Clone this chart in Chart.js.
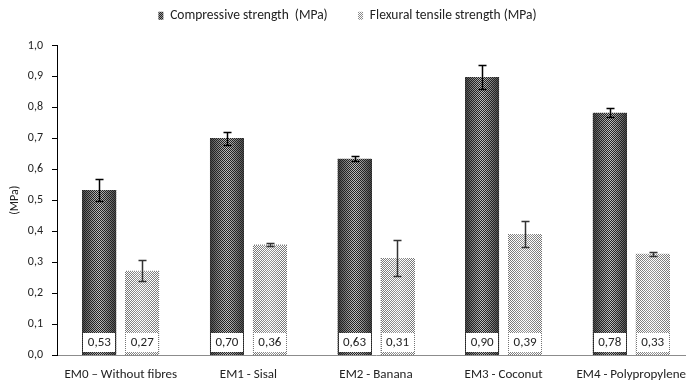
<!DOCTYPE html>
<html>
<head>
<meta charset="utf-8">
<script src="https://cdn.jsdelivr.net/npm/chart.js@4.4.1/dist/chart.umd.min.js"></script>
<style>
    html, body { margin: 0; padding: 0; background: #fff; overflow: hidden; }
    #wrap { width: 686px; height: 380px; overflow: hidden; }
</style>
</head>
<body>
<div id="wrap"><canvas id="chart" width="700" height="380"></canvas></div>
<script>
const categories = ['EM0 \u2013 Without fibres', 'EM1 - Sisal', 'EM2 - Banana', 'EM3 - Coconut', 'EM4 - Polypropylene'];
const compressive = [0.533, 0.700, 0.634, 0.898, 0.783];
const compressiveErr = [0.037, 0.022, 0.008, 0.040, 0.015];
const flexural = [0.272, 0.357, 0.313, 0.391, 0.327];
const flexuralErr = [0.034, 0.006, 0.058, 0.043, 0.007];
const seriesNames = ['Compressive strength  (MPa)', 'Flexural tensile strength (MPa)'];

const lerp = (a, b, t) => a + (b - a) * t;

// pixel shades for the dotted Excel-like fills (t: 0 centre -> 1 edge)
function compShade(t, odd) { return odd ? lerp(195, 70, Math.pow(t, 1.2)) : 35; }
function flexShade(t, odd) { return odd ? 255 : lerp(150, 115, t); }
const shades = [compShade, flexShade];
const errors = [compressiveErr, flexuralErr];
const errColors = ['#000', '#333'];

var canvas = document.getElementById('chart');
var ctx = canvas.getContext('2d');

function makePattern(w, shade) {
    const c = document.createElement('canvas');
    c.width = w; c.height = 2;
    const cx = c.getContext('2d');
    const img = cx.createImageData(w, 2);
    for (let yy = 0; yy < 2; yy++) {
        for (let xx = 0; xx < w; xx++) {
            const t = Math.min(1, Math.abs(xx + 0.5 - w / 2) / (w / 2));
            const v = shade(t, (xx + yy) % 2 === 1);
            const k = (yy * w + xx) * 4;
            img.data[k] = img.data[k + 1] = img.data[k + 2] = v;
            img.data[k + 3] = 255;
        }
    }
    cx.putImageData(img, 0, 0);
    return ctx.createPattern(c, 'repeat');
}

const fmt = v => v.toFixed(2).replace('.', ',');

// bars fill, error bars and value boxes
const barDecor = {
    id: 'barDecor',
    afterDatasetsDraw(chart) {
        const { ctx, scales: { y } } = chart;
        chart.data.datasets.forEach((ds, di) => {
            const meta = chart.getDatasetMeta(di);
            meta.data.forEach((bar, i) => {
                const left = Math.round(bar.x - bar.width / 2);
                const w = Math.round(bar.width);
                const top = Math.round(bar.y);
                const base = Math.round(bar.base);
                ctx.save();
                const pat = makePattern(w, shades[di]);
                pat.setTransform(new DOMMatrix().translate(left, 0));
                ctx.fillStyle = pat;
                ctx.fillRect(left, top, w, base - top);

                // error bar
                const v = ds.data[i], e = errors[di][i];
                const yHi = Math.round(y.getPixelForValue(v + e)) + 0.5;
                const yLo = Math.round(y.getPixelForValue(v - e)) + 0.5;
                const cxp = Math.round(bar.x) + 0.5;
                ctx.strokeStyle = errColors[di];
                ctx.lineWidth = 1.5;
                ctx.beginPath();
                ctx.moveTo(cxp, yHi); ctx.lineTo(cxp, yLo);
                ctx.moveTo(cxp - 4, yHi); ctx.lineTo(cxp + 4, yHi);
                ctx.moveTo(cxp - 4, yLo); ctx.lineTo(cxp + 4, yLo);
                ctx.stroke();

                // value box
                ctx.fillStyle = '#fff';
                ctx.fillRect(left + 1, base - 22, w - 2, 19);
                ctx.fillStyle = '#222';
                ctx.font = '13px Carlito, Lato, sans-serif';
                ctx.textAlign = 'center';
                ctx.textBaseline = 'middle';
                ctx.fillText(fmt(v), bar.x, base - 12);
                ctx.restore();
            });
        });
    }
};

const legendSpace = {
    id: 'legendSpace',
    beforeInit(chart) {
        const fit = chart.legend.fit;
        chart.legend.fit = function () {
            fit.call(this);
            this.height += 13;
        };
    }
};

Chart.defaults.font.family = 'Carlito, Lato, sans-serif';
Chart.defaults.color = '#222';

new Chart(ctx, {
    type: 'bar',
    data: {
        labels: categories,
        datasets: [
            {
                label: seriesNames[0] + '       ',
                data: compressive,
                backgroundColor: makePattern(4, (t, odd) => compShade(0.4, odd)),
                borderWidth: 0,
                categoryPercentage: 0.673,
                barPercentage: 0.79
            },
            {
                label: seriesNames[1],
                data: flexural,
                backgroundColor: makePattern(4, (t, odd) => flexShade(0.4, odd)),
                borderWidth: 0,
                categoryPercentage: 0.673,
                barPercentage: 0.79
            }
        ]
    },
    plugins: [barDecor, legendSpace],
    options: {
        responsive: false,
        animation: false,
        layout: { padding: { top: 0, right: 5, left: 0, bottom: 0 } },
        scales: {
            x: {
                grid: { display: false },
                border: { color: '#8c8c8c', width: 1 },
                ticks: { font: { size: 13 }, padding: 4, maxRotation: 0, autoSkip: false },
                afterFit(scale) { scale.height = 25; }
            },
            y: {
                min: 0,
                max: 1,
                ticks: {
                    stepSize: 0.1,
                    font: { size: 12 },
                    padding: 9,
                    callback: v => v.toFixed(1).replace('.', ',')
                },
                grid: { display: true, drawOnChartArea: false, drawTicks: true, tickLength: 5, color: '#000' },
                border: { color: '#000', width: 1 },
                title: { display: true, text: '(MPa)', font: { size: 12 }, padding: { top: 8, bottom: 0 } },
                afterFit(scale) { scale.width = 57; }
            }
        },
        plugins: {
            legend: {
                position: 'top',
                labels: { boxWidth: 5, boxHeight: 8, padding: 9, font: { size: 13.5 } }
            },
            tooltip: { enabled: false }
        }
    }
});
</script>
</body>
</html>
